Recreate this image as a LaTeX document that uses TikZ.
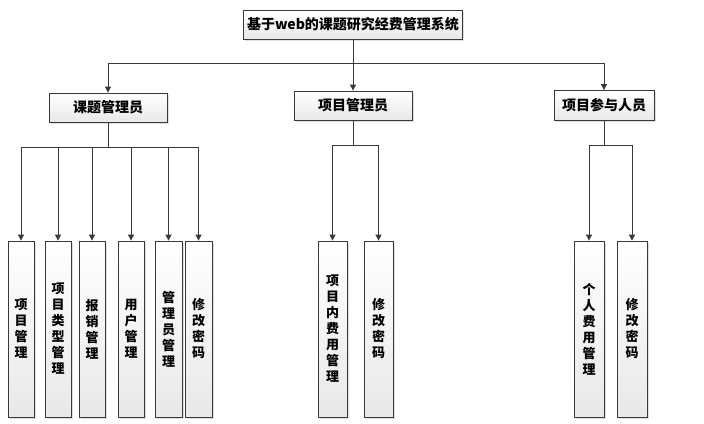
\documentclass[tikz,border=0pt]{standalone}
\usepackage{fontspec}
\setmainfont{Noto Sans CJK SC}
\usepackage{tikz}
\usetikzlibrary{arrows.meta,shadows}

\tikzset{
  box/.style={draw=gray!45!black, line width=0.8pt, top color=white, bottom color=gray!18,
    drop shadow={shadow xshift=1.5pt, shadow yshift=-1.5pt, opacity=0.25},
    font=\bfseries\fontsize{14}{16}\selectfont, inner sep=0pt},
  leaf/.style={box, minimum height=176pt, align=center,
    font=\bfseries\fontsize{13}{16}\selectfont},
  arr/.style={draw=gray!45!black, line width=0.9pt, -{Triangle[width=6pt,length=6pt]}},
  ln/.style={draw=gray!45!black, line width=0.9pt}
}

\begin{document}
\begin{tikzpicture}[x=1pt, y=-1pt]
    \useasboundingbox (0,0) rectangle (704,423);

    % top and second row
    \node[box, minimum width=219pt, minimum height=29pt] (sys) at (353,24.5) {基于web的课题研究经费管理系统};
    \node[box, minimum width=118pt, minimum height=29pt] (kt) at (108,107.5) {课题管理员};
    \node[box, minimum width=118pt, minimum height=29pt] (xm) at (353,105.5) {项目管理员};
    \node[box, minimum width=100pt, minimum height=30pt] (cy) at (604,105.5) {项目参与人员};

    % leaves
    \node[leaf, minimum width=26pt] (xmgl) at (21,329) {项\\目\\管\\理};
    \node[leaf, minimum width=26pt] (lxgl) at (58,329) {项\\目\\类\\型\\管\\理};
    \node[leaf, minimum width=26pt] (bxgl) at (92,329) {报\\销\\管\\理};
    \node[leaf, minimum width=26pt] (yhgl) at (131,329) {用\\户\\管\\理};
    \node[leaf, minimum width=27pt] (glygl) at (168.5,329) {管\\理\\员\\管\\理};
    \node[leaf, minimum width=27pt] (xgmm1) at (198.5,329) {修\\改\\密\\码};

    \node[leaf, minimum width=29pt] (fygl) at (332.5,329) {项\\目\\内\\费\\用\\管\\理};
    \node[leaf, minimum width=29pt] (xgmm2) at (378.5,329) {修\\改\\密\\码};

    \node[leaf, minimum width=30pt] (grfy) at (589,329) {个\\人\\费\\用\\管\\理};
    \node[leaf, minimum width=30pt] (xgmm3) at (632,329) {修\\改\\密\\码};

    % junctions
    \coordinate (j0) at (353,63);
    \coordinate (j1) at (108,147);
    \coordinate (j2) at (353,145);
    \coordinate (j3) at (604,145);

    \draw[ln] (sys.south) -- (j0);
    \draw[arr] (j0) -| (kt.north);
    \draw[arr] (j0) -- (xm.north);
    \draw[arr] (j0) -| (cy.north);

    \draw[ln] (kt.south) -- (j1);
    \foreach \n in {xmgl,lxgl,bxgl,yhgl,glygl,xgmm1}
        \draw[arr] (j1) -| (\n.north);

    \draw[ln] (xm.south) -- (j2);
    \foreach \n in {fygl,xgmm2}
        \draw[arr] (j2) -| (\n.north);

    \draw[ln] (cy.south) -- (j3);
    \foreach \n in {grfy,xgmm3}
        \draw[arr] (j3) -| (\n.north);
\end{tikzpicture}
\end{document}
